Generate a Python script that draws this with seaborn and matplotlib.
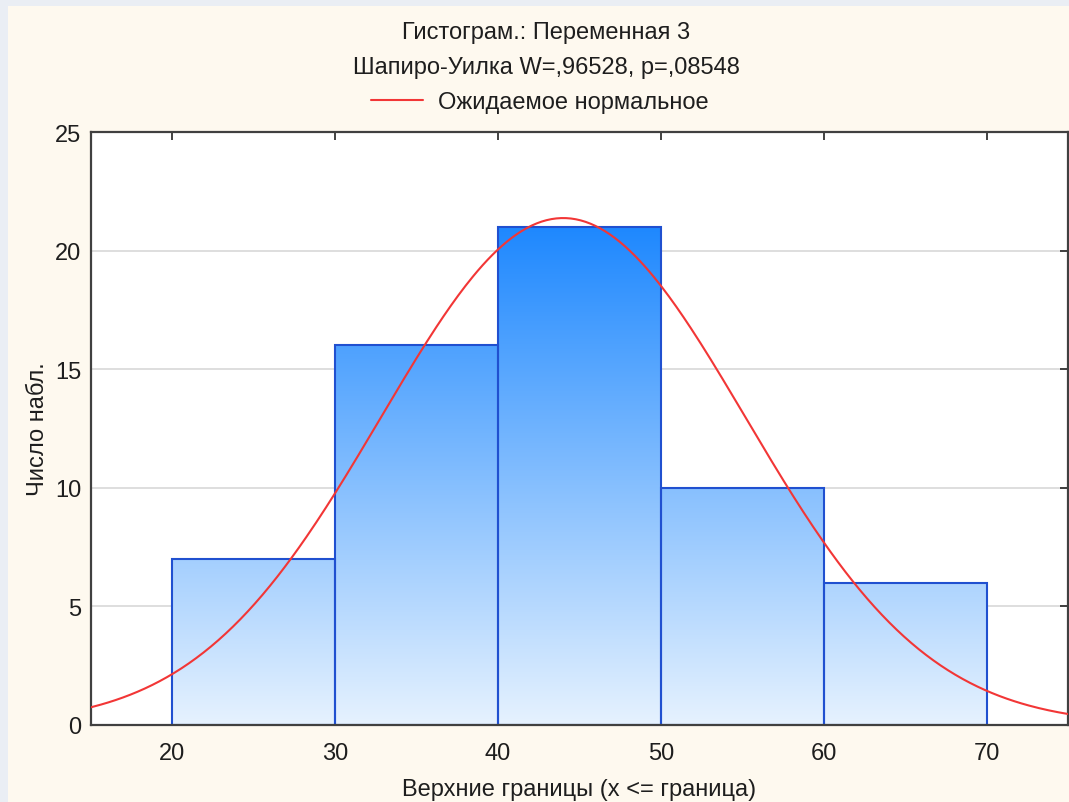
import numpy as np
import matplotlib
matplotlib.use("Agg")
import matplotlib.pyplot as plt
import seaborn as sns
from matplotlib.colors import LinearSegmentedColormap
from matplotlib.patches import Rectangle

# histogram data (upper bounds, counts)
bin_edges = [20, 30, 40, 50, 60, 70]
bin_centers = [25, 35, 45, 55, 65]
counts = [7, 16, 21, 10, 6]

# expected normal parameters
mean_val = 44.0
sd_val = 11.2
bin_width = 10

title_1 = "Гистограм.: Переменная 3"
title_2 = "Шапиро-Уилка W=,96528, p=,08548"
legend_label = "Ожидаемое нормальное"
x_label = "Верхние границы (x <= граница)"
y_label = "Число набл."

sns.set_style("white")
plt.rcParams['font.family'] = ['Liberation Sans', 'DejaVu Sans']
fs = 17

cream = "#FEF9EF"
fig = plt.figure(figsize=(10.69, 8.03), dpi=100, facecolor="#EAEEF4")
bg = Rectangle((8 / 1069, 0), 1, 1 - 7 / 803, transform=fig.transFigure,
               facecolor=cream, edgecolor="none", zorder=-10)
fig.add_artist(bg)

ax = fig.add_axes([91 / 1069, 1 - 726 / 803, (1068 - 91) / 1069, (726 - 133) / 803])
ax.set_facecolor("white")

sns.histplot(x=bin_centers, weights=counts, bins=bin_edges, ax=ax,
             color="#1E88FF", edgecolor="#2050D0", linewidth=1.5, alpha=1, zorder=2)

# gradient fill clipped to each bar
cmap = LinearSegmentedColormap.from_list("grad", ["#E6F2FE", "#1E88FF"])
grad = np.linspace(0, 1, 256).reshape(-1, 1)
ymax_bar = max(counts)
for p in list(ax.patches):
    p.set_facecolor("none")
    im = ax.imshow(grad, cmap=cmap, origin="lower", aspect="auto",
                   extent=[15, 75, 0, ymax_bar], zorder=1.5)
    im.set_clip_path(p)

# expected normal curve
xs = np.linspace(15, 75, 400)
n_total = sum(counts)
ys = n_total * bin_width / (sd_val * np.sqrt(2 * np.pi)) * np.exp(-0.5 * ((xs - mean_val) / sd_val) ** 2)
sns.lineplot(x=xs, y=ys, ax=ax, color="#F23636", linewidth=1.5, zorder=3, label=legend_label)

ax.set_xlim(15, 75)
ax.set_ylim(0, 25)
ax.set_xticks([20, 30, 40, 50, 60, 70])
ax.set_yticks([0, 5, 10, 15, 20, 25])
for yv in [5, 10, 15, 20]:
    ax.axhline(yv, color="#D8D8D8", linewidth=1.2, zorder=0.5)

ax.tick_params(axis="both", direction="in", length=6, width=1.3, colors="#333333",
               labelsize=fs, labelcolor="#1E1E1E", top=True, right=True)
ax.tick_params(axis="x", pad=12)
ax.tick_params(axis="y", pad=7)
for s in ax.spines.values():
    s.set_color("#404040")
    s.set_linewidth(1.6)
    s.set_visible(True)

ax.set_xlabel(x_label, fontsize=fs, color="#1E1E1E", labelpad=10)
ax.set_ylabel(y_label, fontsize=fs, color="#1E1E1E", labelpad=4)

fig.text(0.511, 1 - 33 / 803, title_1, ha="center", va="center", fontsize=fs, color="#1E1E1E")
fig.text(0.511, 1 - 68 / 803, title_2, ha="center", va="center", fontsize=fs, color="#1E1E1E")
ax.legend(loc="center", bbox_to_anchor=(0.505, 1 - 103 / 803), bbox_transform=fig.transFigure,
          frameon=False, fontsize=fs, handlelength=2.2, handletextpad=0.6, labelcolor="#1E1E1E")

fig.savefig("out.png", dpi=100, facecolor=fig.get_facecolor())
